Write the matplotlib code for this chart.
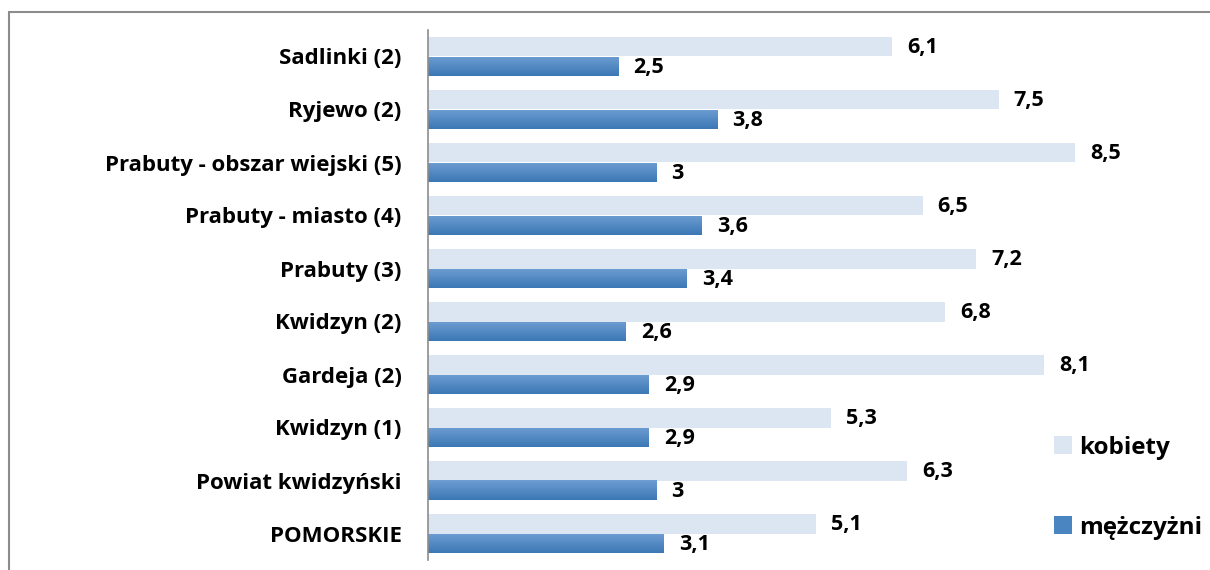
import matplotlib.pyplot as plt
from matplotlib.patches import Rectangle
from matplotlib.colors import LinearSegmentedColormap
import numpy as np

plt.rcParams['font.family'] = ['Open Sans', 'DejaVu Sans']

# dane
kategorie = ['Sadlinki (2)', 'Ryjewo (2)', 'Prabuty - obszar wiejski (5)',
             'Prabuty - miasto (4)', 'Prabuty (3)', 'Kwidzyn (2)', 'Gardeja (2)',
             'Kwidzyn (1)', 'Powiat kwidzyński', 'POMORSKIE']
kobiety = [6.1, 7.5, 8.5, 6.5, 7.2, 6.8, 8.1, 5.3, 6.3, 5.1]
mezczyzni = [2.5, 3.8, 3.0, 3.6, 3.4, 2.6, 2.9, 2.9, 3.0, 3.1]

W, H = 1210, 570
fig = plt.figure(figsize=(W / 100, H / 100), dpi=100)
fig.patches.append(Rectangle((8.5 / W, -0.1), 1.2, 1.1 - 12.5 / H,
                             transform=fig.transFigure, fill=False,
                             edgecolor='#8c8c8c', linewidth=1.5))

ax = fig.add_axes([428 / W, 10 / H, 761 / W, 530 / H])
y = np.arange(len(kategorie))
h = 0.368
c_k = '#dce6f2'
c_m = '#4a85c1'
b1 = ax.barh(y - h / 2, kobiety, height=h, color=c_k, label='kobiety')
b2 = ax.barh(y + h / 2, mezczyzni, height=h, color=c_m, label='mężczyżni')

# gradient na ciemnych słupkach
cmap = LinearSegmentedColormap.from_list('g', ['#6d9dd2', '#3c78b5'])
grad = np.linspace(0, 1, 50).reshape(-1, 1)
for b in b2:
    x0, y0 = b.get_x(), b.get_y()
    im = ax.imshow(grad, cmap=cmap, aspect='auto', interpolation='bilinear',
                   extent=(x0, x0 + b.get_width(), y0 + b.get_height(), y0),
                   zorder=b.get_zorder() + 0.1)
    im.set_clip_path(b)

for bars, vals in ((b1, kobiety), (b2, mezczyzni)):
    for b, v in zip(bars, vals):
        txt = ('%g' % v).replace('.', ',')
        ax.annotate(txt, (b.get_width(), b.get_y() + b.get_height() / 2),
                    xytext=(15, -1), textcoords='offset pixels',
                    va='center', ha='left', fontsize=15.5, fontweight='bold')

ax.set_xlim(0, 10)
ax.set_ylim(len(kategorie) - 0.5, -0.5)
ax.set_yticks(y)
ax.set_yticklabels(kategorie, fontsize=16, fontweight='bold')
ax.tick_params(axis='y', length=0, pad=19)
ax.set_xticks([])
for s in ['top', 'right', 'bottom']:
    ax.spines[s].set_visible(False)
ax.spines['left'].set_color('#8c8c8c')
ax.spines['left'].set_linewidth(1.2)

fig.legend(handles=[b1, b2], loc='upper left',
           bbox_to_anchor=(1032 / W, 1 - 414 / H), frameon=False,
           prop={'size': 17.5, 'weight': 'bold'}, labelspacing=2.3,
           handlelength=0.75, handleheight=0.75, handletextpad=0.3)

fig.savefig('out.png', dpi=100)
